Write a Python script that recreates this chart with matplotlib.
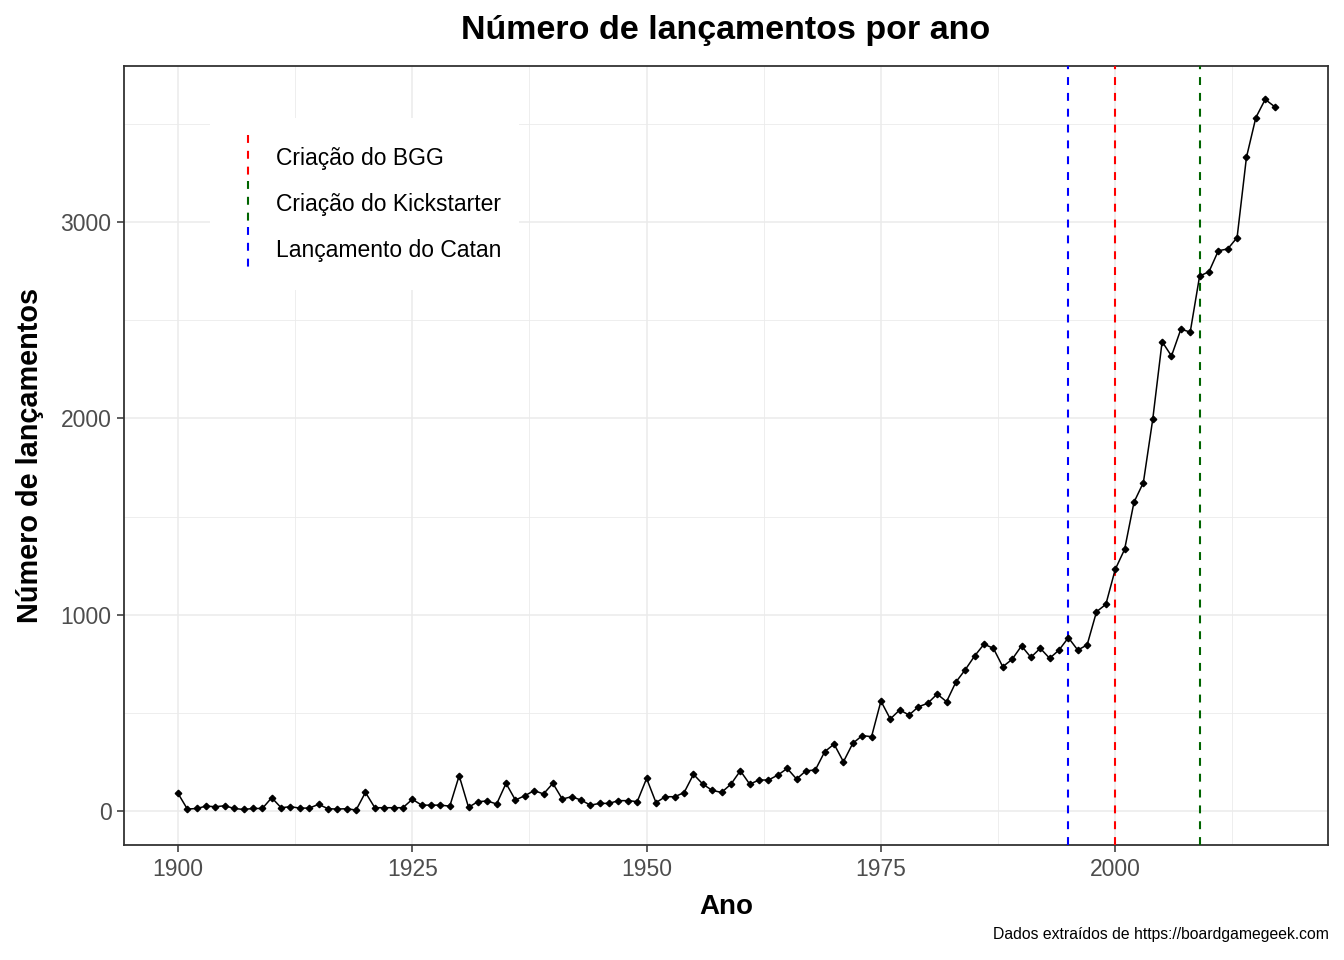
import matplotlib
matplotlib.use("Agg")
import matplotlib.pyplot as plt
from matplotlib.lines import Line2D
from matplotlib.legend_handler import HandlerBase
from matplotlib.ticker import MultipleLocator

plt.rcParams['font.family'] = ['Liberation Sans', 'DejaVu Sans']

# ---- data ----
years = list(range(1900, 2018))
releases = [
    90, 10, 13, 25, 22, 27, 13, 8, 13, 13,          # 1900-1909
    68, 17, 22, 15, 15, 34, 12, 10, 12, 5,          # 1910-1919
    95, 17, 17, 17, 17, 60, 30, 30, 30, 25,         # 1920-1929
    180, 19, 48, 51, 36, 141, 56, 78, 104, 87,      # 1930-1939
    141, 61, 73, 56, 30, 39, 39, 53, 53, 48,        # 1940-1949
    166, 43, 73, 73, 94, 187, 137, 105, 95, 137,    # 1950-1959
    205, 137, 158, 158, 183, 217, 163, 205, 209, 302,  # 1960-1969
    341, 251, 345, 384, 379, 560, 469, 515, 489, 531,  # 1970-1979
    549, 596, 557, 657, 720, 790, 850, 829, 735, 773,  # 1980-1989
    841, 783, 829, 778, 820, 883, 820, 846, 1015, 1053,  # 1990-1999
    1231, 1333, 1573, 1673, 1995, 2391, 2318, 2454, 2440, 2725,  # 2000-2009
    2747, 2854, 2863, 2921, 3330, 3532, 3625, 3588,  # 2010-2017
]

event_labels = ["Criação do BGG", "Criação do Kickstarter", "Lançamento do Catan"]
event_years = [2000, 2009, 1995]
event_colors = ["red", "darkgreen", "blue"]

title = "Número de lançamentos por ano"
xlabel = "Ano"
ylabel = "Número de lançamentos"
caption = "Dados extraídos de https://boardgamegeek.com"

# ---- figure ----
fig = plt.figure(figsize=(13.44, 9.6), dpi=100)
ax = fig.add_axes([124/1344, 1 - 845/960, (1328-124)/1344, (845-66)/960])

DASH = (0, (3.8, 3.8))
handles = []
for lab, yr, col in zip(event_labels, event_years, event_colors):
    ax.axvline(yr, color=col, linestyle=DASH, linewidth=1.5, zorder=3)
    handles.append(Line2D([], [], color=col, linewidth=1.5, label=lab))

ax.plot(years, releases, color="black", linewidth=1.1, marker="D",
        markersize=3.3, zorder=4)

ax.set_xlim(1894.24, 2022.7)
ax.set_ylim(-173, 3795)
ax.xaxis.set_major_locator(MultipleLocator(25))
ax.xaxis.set_minor_locator(MultipleLocator(12.5))
ax.yaxis.set_major_locator(MultipleLocator(1000))
ax.yaxis.set_minor_locator(MultipleLocator(500))

ax.grid(which="major", color="#EBEBEB", linewidth=1.1, zorder=0)
ax.grid(which="minor", color="#EBEBEB", linewidth=0.6, zorder=0)
ax.set_axisbelow(True)

for s in ax.spines.values():
    s.set_color("#333333")
    s.set_linewidth(1.3)

ax.tick_params(which="major", length=5, width=1.1, color="#333333",
               labelsize=16.5, labelcolor="#4D4D4D", pad=4)
ax.tick_params(which="minor", length=0)

ax.set_xlabel(xlabel, fontsize=20, fontweight="bold", labelpad=10)
ax.set_ylabel(ylabel, fontsize=20.8, fontweight="bold", labelpad=12)
fig.text(726/1344, 1 - 30/960, title, ha="center", va="center",
         fontsize=24.5, fontweight="bold")
fig.text(1329/1344, 1 - 934/960, caption, ha="right", va="center",
         fontsize=11.3)


class VLineHandler(HandlerBase):
    def create_artists(self, legend, orig_handle, xdescent, ydescent,
                       width, height, fontsize, trans):
        x = width / 2 - xdescent
        ln = Line2D([x, x], [height - ydescent, -ydescent],
                    color=orig_handle.get_color(),
                    linestyle=DASH,
                    linewidth=orig_handle.get_linewidth())
        ln.set_transform(trans)
        return [ln]


leg = ax.legend(handles=handles, loc="upper left",
                bbox_to_anchor=((210-124)/1204, (845-118)/779),
                borderaxespad=0, frameon=True, fancybox=False,
                facecolor="white", edgecolor="none", framealpha=1,
                fontsize=16.5, handlelength=1.83, handleheight=2.71,
                handletextpad=0.3, labelspacing=0, borderpad=0.75,
                handler_map={Line2D: VLineHandler()})
leg.set_zorder(5)

fig.savefig("out.png", dpi=100, facecolor="white")
